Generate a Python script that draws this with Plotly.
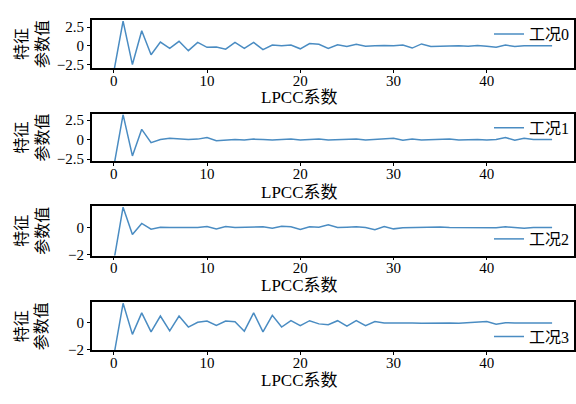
import plotly.graph_objects as go

# ---------------- data ----------------
x_idx = list(range(48))
names = ["工况0", "工况1", "工况2", "工况3"]
c0 = [-3.5, 3.3, -2.5, 2.0, -1.2, 0.5, -0.35, 0.6, -0.65, 0.45,
      -0.2, -0.15, -0.45, 0.45, -0.35, 0.45, -0.5, 0.1, 0.0, 0.1,
      -0.4, 0.3, 0.2, -0.35, 0.15, -0.1, 0.2, -0.05, 0.0, 0.05,
      0.0, 0.1, -0.3, 0.25, -0.1, -0.05, 0.0, 0.0, -0.05, 0.05,
      -0.05, -0.2, 0.1, -0.1, 0.0, -0.05, 0.0, 0.0]
c1 = [-3.5, 3.2, -2.1, 1.3, -0.4, 0.0, 0.15, 0.1, 0.0, 0.05,
      0.25, -0.15, -0.05, 0.0, -0.05, 0.05, 0.0, -0.05, 0.0, 0.05,
      -0.05, 0.0, 0.05, -0.05, 0.0, 0.0, 0.05, -0.05, 0.0, 0.05,
      0.15, -0.1, 0.05, -0.05, 0.0, 0.0, 0.05, -0.05, 0.0, 0.0,
      -0.05, 0.0, 0.25, -0.1, 0.15, 0.0, 0.0, 0.0]
c2 = [-2.5, 1.5, -0.52, 0.3, -0.12, 0.02, 0.0, 0.02, 0.0, 0.0,
      0.07, -0.1, 0.07, 0.0, 0.02, 0.0, 0.05, -0.05, 0.1, 0.05,
      -0.15, 0.05, 0.02, 0.2, 0.0, 0.02, 0.05, 0.0, -0.17, 0.07,
      -0.1, -0.02, 0.0, 0.02, 0.0, 0.03, 0.0, 0.0, 0.02, 0.0,
      0.0, -0.02, 0.05, 0.0, -0.05, 0.0, -0.02, 0.0]
c3 = [-2.5, 1.48, -0.86, 0.76, -0.67, 0.52, -0.6, 0.52, -0.31, 0.05,
      0.14, -0.19, 0.14, 0.1, -0.62, 0.76, -0.67, 0.57, -0.31, 0.17,
      -0.2, 0.17, -0.07, -0.14, 0.17, -0.24, 0.17, -0.2, 0.1, 0.0,
      0.0, 0.02, 0.0, -0.02, 0.0, 0.02, 0.0, -0.03, 0.0, 0.02,
      0.1, -0.1, 0.02, 0.0, 0.02, 0.0, 0.0, 0.0]
series = [c0, c1, c2, c3]
y_ranges = [[-3.0, 3.5], [-2.75, 3.25], [-2.07, 1.6], [-2.05, 1.55]]
y_ticks = [[-2.5, 0, 2.5], [-2.5, 0, 2.5], [-2, 0], [-2, 0]]
y_ticktext = [["−2.5", "0", "2.5"], ["−2.5", "0", "2.5"], ["−2", "0"], ["−2", "0"]]
x_ticks = [0, 10, 20, 30, 40]
x_title = "LPCC系数"
y_title = "特征<br>参数值"

# ---------------- layout geometry (pixels) ----------------
W, H = 576, 404
px_left, px_right = 92, 575
px_rows = [(18, 68), (115, 163), (209, 260), (308, 357)]
legend_y_px = [33, 129, 243, 343]
xtitle_y_px = [98, 195, 291, 388]

FONT = "Liberation Serif, 'Noto Sans CJK SC', serif"
LINE_COLOR = "#4a8cc2"

fig = go.Figure()
layout = dict(
    width=W, height=H,
    margin=dict(l=0, r=0, t=0, b=0),
    paper_bgcolor="white", plot_bgcolor="white",
    font=dict(family=FONT, color="black", size=15),
    showlegend=True,
    annotations=[],
)

for i, (ys, nm) in enumerate(zip(series, names)):
    k = "" if i == 0 else str(i + 1)
    top, bot = px_rows[i]
    fig.add_trace(go.Scatter(
        x=x_idx, y=ys, mode="lines", name=nm,
        line=dict(color=LINE_COLOR, width=1.5),
        xaxis="x" + k, yaxis="y" + k,
        legend="legend" + k,
    ))
    layout["xaxis" + k] = dict(
        domain=[px_left / W, px_right / W], anchor="y" + k,
        range=[-2.35, 49.35], tickvals=x_ticks,
        showline=True, linecolor="black", linewidth=1.5, mirror=True,
        ticks="outside", ticklen=3, tickcolor="black",
        ticklabelstandoff=-5,
        showgrid=False, zeroline=False,
        tickfont=dict(family=FONT, size=15),
    )
    layout["yaxis" + k] = dict(
        domain=[1 - bot / H, 1 - top / H], anchor="x" + k,
        range=y_ranges[i], tickvals=y_ticks[i], ticktext=y_ticktext[i],
        showline=True, linecolor="black", linewidth=1.5, mirror=True,
        ticks="outside", ticklen=3, tickcolor="black",
        showgrid=False, zeroline=False,
        tickfont=dict(family=FONT, size=15),
    )
    layout["legend" + k] = dict(
        x=1.0, xanchor="right", y=1 - legend_y_px[i] / H, yanchor="middle",
        bgcolor="rgba(0,0,0,0)", borderwidth=0,
        font=dict(family=FONT, size=16),
    )
    layout["annotations"].append(dict(
        text=x_title, x=300 / W, y=1 - xtitle_y_px[i] / H,
        xref="paper", yref="paper", showarrow=False,
        xanchor="center", yanchor="middle",
        font=dict(family=FONT, size=17),
    ))
    layout["annotations"].append(dict(
        text=y_title, x=32 / W, y=1 - (top + bot) / 2 / H,
        xref="paper", yref="paper", showarrow=False,
        xanchor="center", yanchor="middle", textangle=-90,
        font=dict(family=FONT, size=16),
    ))

fig.update_layout(**layout)
fig.write_html("out.html")
